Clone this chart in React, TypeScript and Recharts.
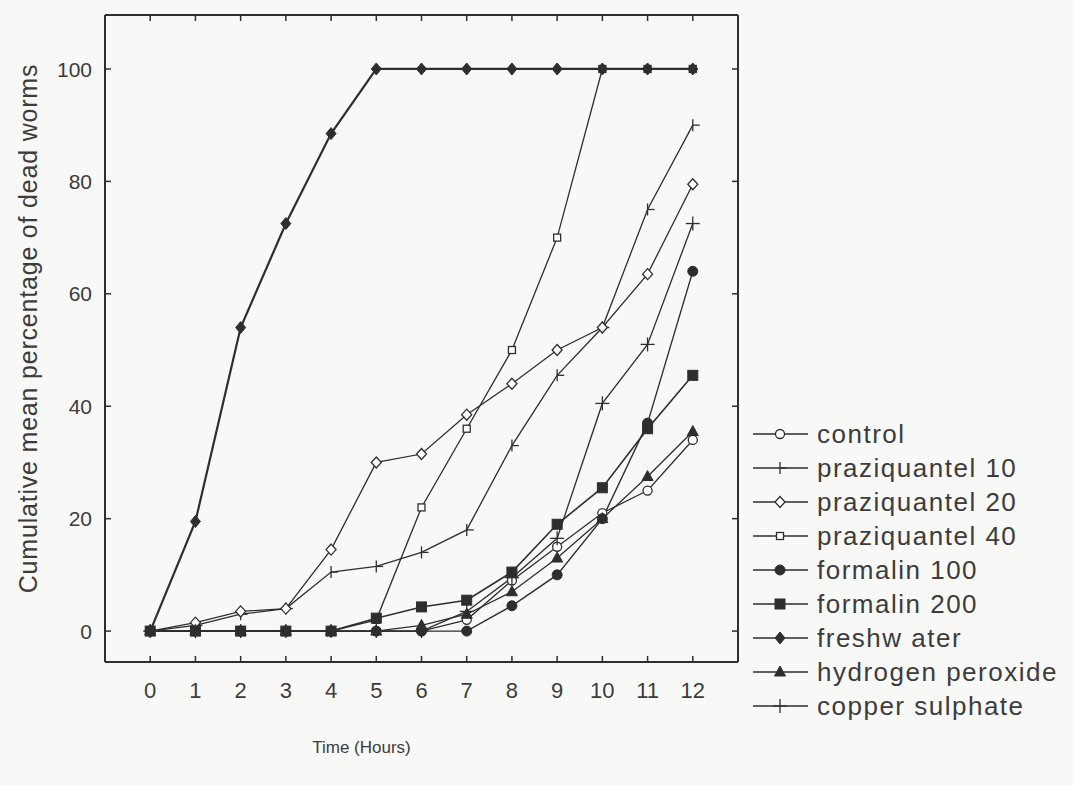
import React from 'react';
import { LineChart, Line, XAxis, YAxis, Label } from 'recharts';

const hours = [0, 1, 2, 3, 4, 5, 6, 7, 8, 9, 10, 11, 12];
const control = [0, 0, 0, 0, 0, 0, 0, 2, 9, 15, 21, 25, 34];
const praziquantel10 = [0, 1, 3, 4, 10.5, 11.5, 14, 18, 33, 45.5, 54, 75, 90];
const praziquantel20 = [0, 1.5, 3.5, 4, 14.5, 30, 31.5, 38.5, 44, 50, 54, 63.5, 79.5];
const praziquantel40 = [0, 0, 0, 0, 0, 2, 22, 36, 50, 70, 100, 100, 100];
const formalin100 = [0, 0, 0, 0, 0, 0, 0, 0, 4.5, 10, 20, 37, 64];
const formalin200 = [0, 0, 0, 0, 0, 2.3, 4.3, 5.5, 10.5, 19, 25.5, 36, 45.5];
const freshwater = [0, 19.5, 54, 72.5, 88.5, 100, 100, 100, 100, 100, 100, 100, 100];
const hydrogenPeroxide = [0, 0, 0, 0, 0, 0, 1, 3, 7, 13, 20, 27.5, 35.5];
const copperSulphate = [0, 0, 0, 0, 0, 0, 0, 3.5, 9.5, 16.5, 40.5, 51, 72.5];

const yTicks = [0, 20, 40, 60, 80, 100];
const xTicks = hours;

const xLabel = 'Time (Hours)';
const yLabel = 'Cumulative mean percentage of dead worms';

const INK = '#2e2e2e';
const TXT = '#3c3c3c';
const FONT = '"Liberation Sans", Arial, sans-serif';

type Kind = 'hcircle' | 'bar' | 'hdiamond' | 'hsquare' | 'fcircle' | 'fsquare' | 'fdiamond' | 'triangle' | 'plus';

const series: { key: string; name: string; values: number[]; kind: Kind; width: number }[] = [
  { key: 'control', name: 'control', values: control, kind: 'hcircle', width: 1.3 },
  { key: 'p10', name: 'praziquantel 10', values: praziquantel10, kind: 'bar', width: 1.3 },
  { key: 'p20', name: 'praziquantel 20', values: praziquantel20, kind: 'hdiamond', width: 1.3 },
  { key: 'p40', name: 'praziquantel 40', values: praziquantel40, kind: 'hsquare', width: 1.3 },
  { key: 'f100', name: 'formalin 100', values: formalin100, kind: 'fcircle', width: 1.4 },
  { key: 'f200', name: 'formalin 200', values: formalin200, kind: 'fsquare', width: 1.6 },
  { key: 'fw', name: 'freshw ater', values: freshwater, kind: 'fdiamond', width: 2.2 },
  { key: 'h2o2', name: 'hydrogen peroxide', values: hydrogenPeroxide, kind: 'triangle', width: 1.3 },
  { key: 'cu', name: 'copper sulphate', values: copperSulphate, kind: 'plus', width: 1.3 },
];

const data = hours.map((h, i) => {
  const row: Record<string, number> = { hour: h };
  series.forEach((s) => {
    row[s.key] = s.values[i];
  });
  return row;
});

function Marker({ kind, cx, cy }: { kind: Kind; cx: number; cy: number }) {
  const sw = 1.3;
  switch (kind) {
    case 'hcircle':
      return <circle cx={cx} cy={cy} r={4.5} fill="#fff" stroke={INK} strokeWidth={sw} />;
    case 'bar':
      return (
        <g stroke={INK} strokeWidth={sw} fill="none">
          <line x1={cx} x2={cx} y1={cy - 6} y2={cy + 6} />
          <line x1={cx} x2={cx + 7} y1={cy} y2={cy} />
        </g>
      );
    case 'hdiamond':
      return (
        <path d={`M${cx},${cy - 5.5}L${cx + 5},${cy}L${cx},${cy + 5.5}L${cx - 5},${cy}Z`} fill="#fff" stroke={INK} strokeWidth={sw} />
      );
    case 'hsquare':
      return <rect x={cx - 3.5} y={cy - 3.5} width={7} height={7} fill="#fff" stroke={INK} strokeWidth={sw} />;
    case 'fcircle':
      return <circle cx={cx} cy={cy} r={5} fill={INK} stroke={INK} strokeWidth={1} />;
    case 'fsquare':
      return <rect x={cx - 5} y={cy - 5} width={10} height={10} fill={INK} stroke={INK} strokeWidth={1} />;
    case 'fdiamond':
      return <path d={`M${cx},${cy - 6}L${cx + 5},${cy}L${cx},${cy + 6}L${cx - 5},${cy}Z`} fill={INK} stroke={INK} strokeWidth={1} />;
    case 'triangle':
      return <path d={`M${cx},${cy - 6}L${cx + 5.5},${cy + 4}L${cx - 5.5},${cy + 4}Z`} fill={INK} stroke={INK} strokeWidth={1} />;
    case 'plus':
      return (
        <g stroke={INK} strokeWidth={sw}>
          <line x1={cx - 7} x2={cx + 7} y1={cy} y2={cy} />
          <line x1={cx} x2={cx} y1={cy - 7} y2={cy + 7} />
        </g>
      );
  }
  return null;
}

const makeDot = (kind: Kind) => (props: any) => {
  const { cx, cy, index } = props;
  if (cx == null || cy == null) return <g key={`d-${kind}-${index}`} />;
  return (
    <g key={`d-${kind}-${index}`}>
      <Marker kind={kind} cx={cx} cy={cy} />
    </g>
  );
};

const LeftTick = (p: any) => (
  <g>
    <line x1={p.x} x2={p.x + 6} y1={p.y} y2={p.y} stroke={INK} strokeWidth={1.5} />
    <text x={p.x - 13} y={p.y} dy="0.36em" textAnchor="end" fontSize={21} fill={TXT} fontFamily={FONT}>
      {p.payload.value}
    </text>
  </g>
);
const RightTick = (p: any) => (
  <line x1={p.x} x2={p.x - 6} y1={p.y} y2={p.y} stroke={INK} strokeWidth={1.5} />
);
const BottomTick = (p: any) => (
  <g>
    <line x1={p.x} x2={p.x} y1={p.y} y2={p.y - 6} stroke={INK} strokeWidth={1.5} />
    <text x={p.x} y={p.y + 36} textAnchor="middle" fontSize={22} fill={TXT} fontFamily={FONT}>
      {p.payload.value}
    </text>
  </g>
);
const TopTick = (p: any) => (
  <line x1={p.x} x2={p.x} y1={p.y} y2={p.y + 6} stroke={INK} strokeWidth={1.5} />
);

const YLabelContent = (props: any) => {
  const vb = props.viewBox || { x: 0, y: 0, width: 0, height: 0 };
  const cx = vb.x + 3;
  const cy = vb.y + vb.height / 2 - 10;
  return (
    <text
      x={cx}
      y={cy}
      transform={`rotate(-90, ${cx}, ${cy})`}
      textAnchor="middle"
      dominantBaseline="central"
      fontSize={25}
      letterSpacing={0.8}
      fill={TXT}
      fontFamily={FONT}
    >
      {yLabel}
    </text>
  );
};

const XLabelContent = (props: any) => {
  const vb = props.viewBox || { x: 0, y: 0, width: 0, height: 0 };
  return (
    <text x={vb.x + vb.width / 2 - 60} y={vb.y + 91} textAnchor="middle" fontSize={17} fill={TXT} fontFamily={FONT}>
      {xLabel}
    </text>
  );
};

function LegendBox() {
  return (
    <div style={{ position: 'absolute', left: 744, top: 409, fontFamily: FONT }}>
      {series.map((s) => (
        <div key={s.key} style={{ display: 'flex', alignItems: 'center', height: 34 }}>
          <svg width={58} height={34} style={{ display: 'block' }}>
            <line x1={1} x2={56} y1={17} y2={17} stroke={INK} strokeWidth={1.5} />
            <Marker kind={s.kind} cx={28} cy={17} />
          </svg>
          <span style={{ marginLeft: 7, fontSize: 26, letterSpacing: 1.5, color: TXT, whiteSpace: 'nowrap' }}>{s.name}</span>
        </div>
      ))}
    </div>
  );
}

export default function App() {
  return (
    <div style={{ position: 'relative', width: 1060, height: 770, background: '#f8f8f6' }}>
      <style>{`body{background:#f8f8f6}`}</style>
      <LineChart
        width={1060}
        height={770}
        data={data}
        margin={{ top: 6, right: 329, bottom: 66, left: 17 }}
      >
        <XAxis
          dataKey="hour"
          type="number"
          domain={[-1, 13]}
          ticks={xTicks}
          allowDataOverflow
          height={50}
          tickSize={0}
          tickMargin={0}
          tickLine={false}
          tick={BottomTick}
          axisLine={{ stroke: INK, strokeWidth: 2 }}
          interval={0}
        >
          <Label content={XLabelContent} />
        </XAxis>
        <XAxis
          xAxisId="top"
          dataKey="hour"
          type="number"
          orientation="top"
          domain={[-1, 13]}
          ticks={xTicks}
          allowDataOverflow
          height={1}
          tickSize={0}
          tickMargin={0}
          tickLine={false}
          tick={TopTick}
          axisLine={{ stroke: INK, strokeWidth: 2 }}
          interval={0}
        />
        <YAxis
          type="number"
          domain={[-5.5, 109.6]}
          ticks={yTicks}
          allowDataOverflow
          width={80}
          tickSize={0}
          tickMargin={0}
          tickLine={false}
          tick={LeftTick}
          axisLine={{ stroke: INK, strokeWidth: 2 }}
          interval={0}
        >
          <Label content={YLabelContent} />
        </YAxis>
        <YAxis
          yAxisId="right"
          type="number"
          orientation="right"
          domain={[-5.5, 109.6]}
          ticks={yTicks}
          allowDataOverflow
          width={1}
          tickSize={0}
          tickMargin={0}
          tickLine={false}
          tick={RightTick}
          axisLine={{ stroke: INK, strokeWidth: 2 }}
          interval={0}
        />
        {series.map((s) => (
          <Line
            key={s.key}
            dataKey={s.key}
            name={s.name}
            type="linear"
            stroke={INK}
            strokeWidth={s.width}
            dot={makeDot(s.kind)}
            activeDot={false}
            isAnimationActive={false}
          />
        ))}
      </LineChart>
      <LegendBox />
    </div>
  );
}
